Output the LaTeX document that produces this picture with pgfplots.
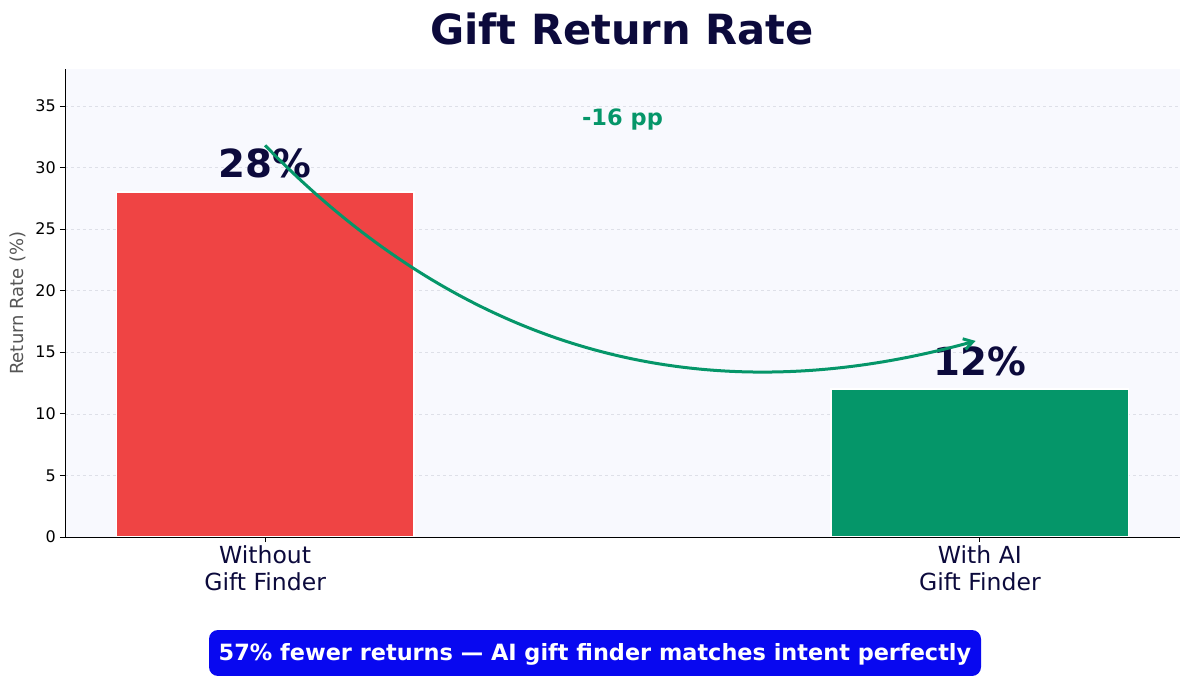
\documentclass[border=0pt]{standalone}
\usepackage{fontspec}
\setmainfont{DejaVu Sans}
\usepackage{pgfplots}
\pgfplotsset{compat=1.18}
\usetikzlibrary{arrows.meta}

\definecolor{navy}{RGB}{12,10,60}
\definecolor{barred}{RGB}{239,68,68}
\definecolor{bargreen}{RGB}{5,150,105}
\definecolor{axisbg}{RGB}{248,249,254}
\definecolor{gridgray}{RGB}{222,224,232}
\definecolor{boxblue}{RGB}{8,8,240}

\begin{document}
\begin{tikzpicture}
\useasboundingbox (0,0) rectangle (1189pt,675pt);
\begin{axis}[
    at={(65pt,138pt)}, anchor=south west,
    scale only axis, width=1115pt, height=468pt,
    xmin=-0.28, xmax=1.28, ymin=0, ymax=38,
    axis background/.style={fill=axisbg},
    axis x line*=bottom, axis y line*=left,
    axis line style={-, black, line width=0.9pt},
    tick align=outside, major tick length=5pt,
    tick style={black, line width=0.8pt},
    xtick={0,1},
    xticklabels={Without\\Gift Finder, With AI\\Gift Finder},
    xticklabel style={align=center, text=navy, font=\fontsize{23.5}{27}\selectfont, inner sep=3.5pt},
    ytick={0,5,...,35},
    yticklabel style={font=\fontsize{16}{18}\selectfont, inner sep=4pt},
    /pgf/number format/assume math mode=true,
    ymajorgrids, grid style={dashed, gridgray, line width=0.6pt},
    ylabel={Return Rate (\%)},
    every axis y label/.append style={at={(axis description cs:-0.042,0.5)}, anchor=center,
        font=\fontsize{18}{20}\selectfont, text={rgb,255:red,85;green,85;blue,85}},
    clip=false,
]
\addplot[ybar, bar width=0.416, fill=barred, draw=white, line width=1.5pt] coordinates {(0,28)};
\addplot[ybar, bar width=0.416, fill=bargreen, draw=white, line width=1.5pt] coordinates {(1,12)};
\draw[black, line width=0.9pt] (rel axis cs:0,0) -- (rel axis cs:1,0);

\node[anchor=base, text=navy, font=\fontsize{38.7}{44}\selectfont\bfseries] at (axis cs:0,29.15) {28\%};
\node[anchor=base, text=navy, font=\fontsize{38.7}{44}\selectfont\bfseries] at (axis cs:1,13.15) {12\%};

\draw[-{Straight Barb[length=9pt,width=11pt]}, line width=3pt, bargreen]
    (axis cs:0,31.8) .. controls (axis cs:0.28,15.04) and (axis cs:0.611,9.75) .. (axis cs:0.994,15.92);
\node[anchor=base, text=bargreen, font=\fontsize{22.5}{26}\selectfont\bfseries] at (axis cs:0.5,33.38) {-16 pp};
\end{axis}

\node[text=navy, font=\fontsize{41.6}{46}\selectfont\bfseries] at (622pt,646pt) {Gift Return Rate};
\node[fill=boxblue, rounded corners=9pt, minimum height=46pt, minimum width=772pt] at (595pt,22pt) {};
\node[text=white, anchor=base, font=\fontsize{22.4}{26}\selectfont\bfseries] at (595pt,14.5pt)
      {57\% fewer returns — AI gift finder matches intent perfectly};
\end{tikzpicture}
\end{document}
